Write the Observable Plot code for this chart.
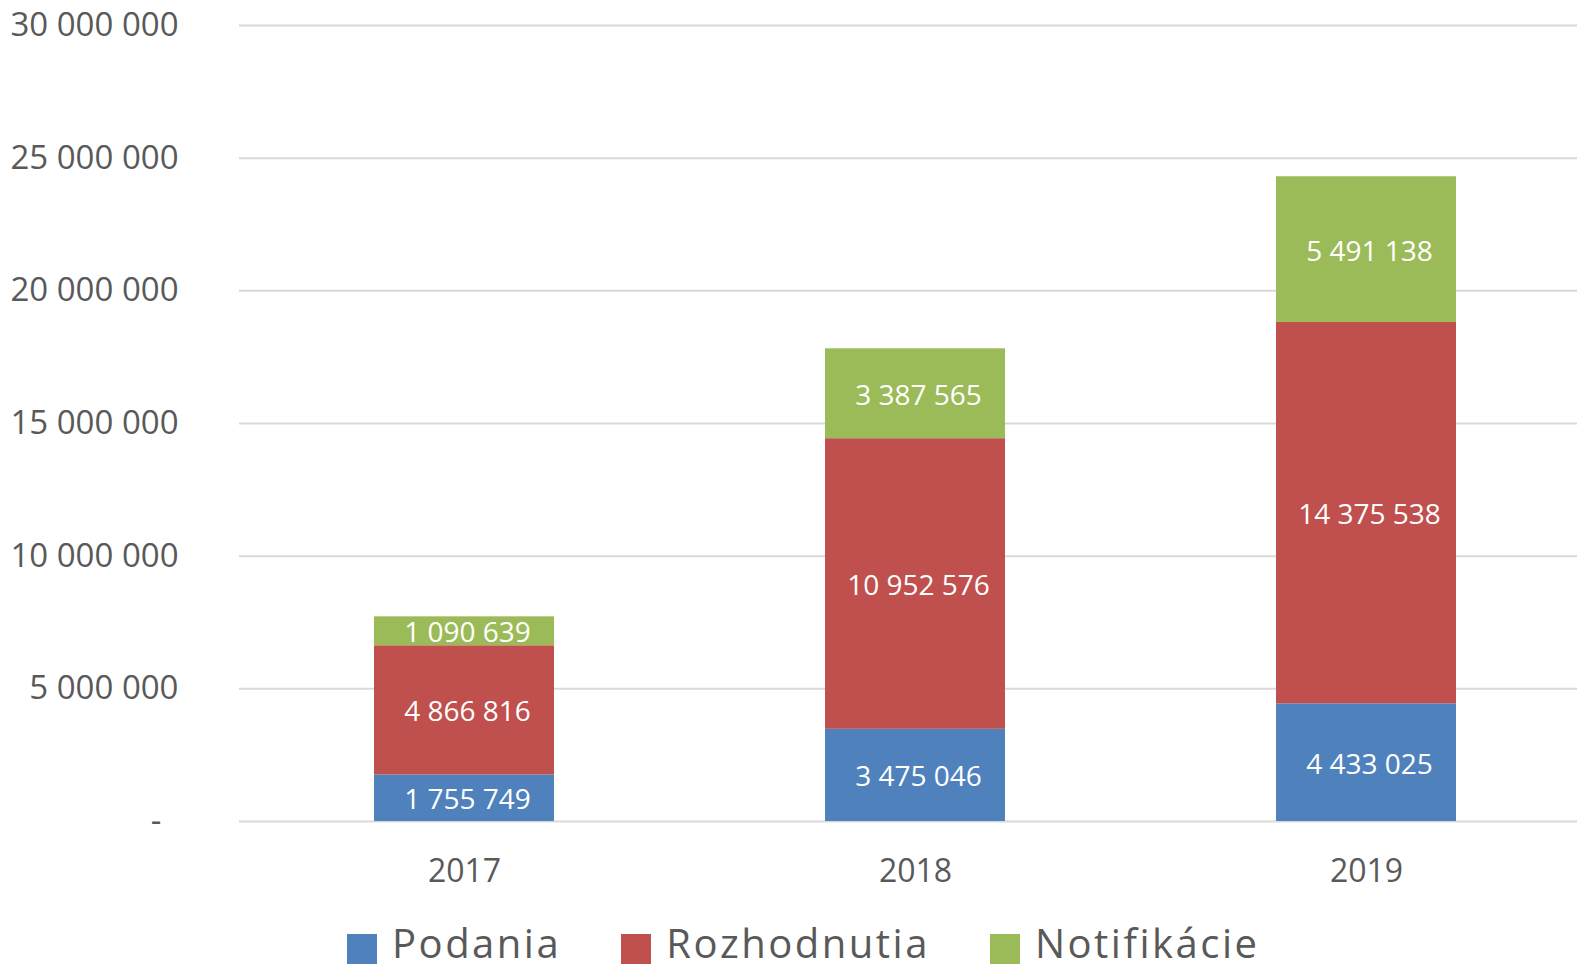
<!DOCTYPE html>
<html>
<head>
<meta charset="utf-8">
<script src="https://cdn.jsdelivr.net/npm/d3@7"></script>
<script src="https://cdn.jsdelivr.net/npm/@observablehq/plot@0.6"></script>
<style>
  html, body { margin: 0; padding: 0; background: #fff; }
  body { width: 1577px; height: 970px; overflow: hidden; font-family: "Open Sans", sans-serif; }
  #chart { height: 895px; }
  #legend { display: flex; align-items: flex-start; margin-left: 347px; margin-top: 28px; color: #595959; font-size: 40px; line-height: 1; height: 40px; letter-spacing: 2.5px; }
  .item { display: flex; align-items: flex-start; margin-right: 60px; }
  .sw { width: 30px; height: 30px; margin-right: 15px; margin-top: 11px; }
</style>
</head>
<body>
<div id="chart"></div>
<div id="legend"></div>
<script>
const years = ["2017", "2018", "2019"];
const seriesNames = ["Podania", "Rozhodnutia", "Notifikácie"];
const podania = [1755749, 3475046, 4433025];
const rozhodnutia = [4866816, 10952576, 14375538];
const notifikacie = [1090639, 3387565, 5491138];
const colors = ["#4F81BD", "#C0504D", "#9BBB59"];
const yTicks = [0, 5000000, 10000000, 15000000, 20000000, 25000000, 30000000];

const seriesValues = [podania, rozhodnutia, notifikacie];
const data = [];
seriesNames.forEach((s, i) => years.forEach((y, j) => data.push({year: y, series: s, value: seriesValues[i][j]})));

const fmt = v => d3.format(",")(v).replace(/,/g, " ");

const chart = Plot.plot({
  width: 1577,
  height: 895,
  marginLeft: 239,
  marginRight: 0,
  marginTop: 25,
  marginBottom: 74,
  style: {fontFamily: "'Open Sans', sans-serif", color: "#595959", background: "#fff"},
  x: {domain: years, range: [239, 1592], paddingInner: 0.6, paddingOuter: 0.3, label: null},
  y: {domain: [0, 30000000], label: null},
  color: {domain: seriesNames, range: colors},
  marks: [
    Plot.gridY(yTicks, {stroke: "#d9d9d9", strokeOpacity: 1, strokeWidth: 2}),
    Plot.axisY({ticks: yTicks, tickSize: 0, tickPadding: 61, fontSize: 33, label: null,
      tickFormat: v => v === 0 ? "-\u00a0\u00a0" : fmt(v)}),
    Plot.axisX({tickSize: 0, tickPadding: 38, fontSize: 32, label: null}),
    Plot.barY(data, {x: "year", y: "value", fill: "series", order: seriesNames}),
    Plot.text(data, Plot.stackY({x: "year", y: "value", z: "series", order: seriesNames,
      text: d => fmt(d.value), fill: "white", fontSize: 28, dx: 3, dy: 2}))
  ]
});
document.getElementById("chart").appendChild(chart);

const legend = document.getElementById("legend");
seriesNames.forEach((s, i) => {
  const it = document.createElement("div");
  it.className = "item";
  const sw = document.createElement("div");
  sw.className = "sw";
  sw.style.background = colors[i];
  const t = document.createElement("span");
  t.textContent = s;
  it.appendChild(sw); it.appendChild(t);
  legend.appendChild(it);
});
</script>
</body>
</html>
